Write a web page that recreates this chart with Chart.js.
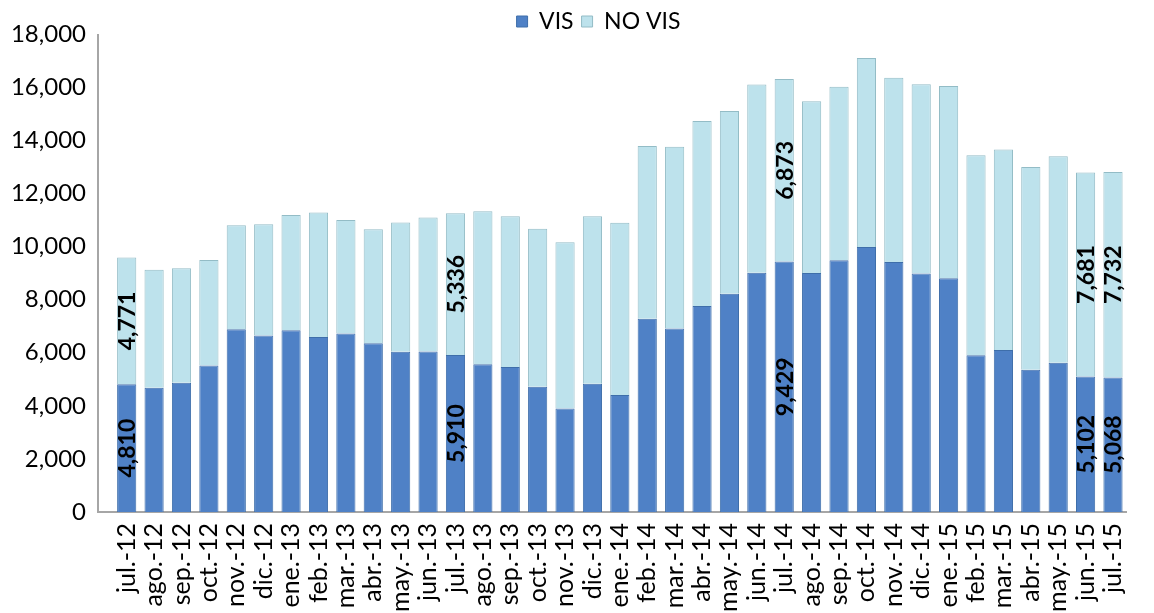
<!DOCTYPE html>
<html>
<head>
<meta charset="utf-8">
<script src="https://cdn.jsdelivr.net/npm/chart.js@4.4.1/dist/chart.umd.min.js"></script>
<style>
  html, body { margin: 0; padding: 0; background: #fff; }
  #wrap { width: 1154px; height: 613px; }
</style>
</head>
<body>
<div id="wrap"><canvas id="vivChart"></canvas></div>
<script>
// months jul-12 .. jul-15
const months = [
  'jul.-12', 'ago.-12', 'sep.-12', 'oct.-12', 'nov.-12', 'dic.-12',
  'ene.-13', 'feb.-13', 'mar.-13', 'abr.-13', 'may.-13', 'jun.-13',
  'jul.-13', 'ago.-13', 'sep.-13', 'oct.-13', 'nov.-13', 'dic.-13',
  'ene.-14', 'feb.-14', 'mar.-14', 'abr.-14', 'may.-14', 'jun.-14',
  'jul.-14', 'ago.-14', 'sep.-14', 'oct.-14', 'nov.-14', 'dic.-14',
  'ene.-15', 'feb.-15', 'mar.-15', 'abr.-15', 'may.-15', 'jun.-15',
  'jul.-15'
];
const visValues = [
  4810, 4680, 4870, 5520, 6880, 6650,
  6840, 6590, 6720, 6350, 6030, 6040,
  5910, 5560, 5460, 4720, 3900, 4830,
  4410, 7280, 6910, 7760, 8220, 9010,
  9429, 9000, 9480, 9980, 9410, 8980,
  8800, 5900, 6100, 5360, 5620, 5102,
  5068
];
const noVisValues = [
  4771, 4440, 4310, 3970, 3920, 4190,
  4340, 4690, 4280, 4300, 4870, 5050,
  5336, 5770, 5680, 5950, 6260, 6310,
  6480, 6500, 6840, 6960, 6880, 7090,
  6873, 6470, 6530, 7120, 6940, 7130,
  7240, 7530, 7550, 7630, 7780, 7681,
  7732
];
const labeledIdx = [0, 12, 24, 35, 36];
const yTicks = [0, 2000, 4000, 6000, 8000, 10000, 12000, 14000, 16000, 18000];

const fontFam = 'Lato, "Open Sans", sans-serif';
const fmt = (v) => v.toLocaleString('en-US');

// value labels, rotated like the original
const valueLabels = {
  id: 'valueLabels',
  afterDatasetsDraw(chart) {
    const ctx = chart.ctx;
    ctx.save();
    ctx.font = 'bold 23px ' + fontFam;
    ctx.fillStyle = '#000';
    ctx.textAlign = 'center';
    ctx.textBaseline = 'middle';
    chart.data.datasets.forEach((ds, di) => {
      const meta = chart.getDatasetMeta(di);
      labeledIdx.forEach((i) => {
        const bar = meta.data[i];
        if (!bar) return;
        const p = bar.getCenterPoint();
        ctx.save();
        ctx.translate(p.x, p.y);
        ctx.rotate(-Math.PI / 2);
        ctx.fillText(fmt(ds.data[i]), 0, 1);
        ctx.restore();
      });
    });
    ctx.restore();
  }
};

// back wall line (3d look of the original axis)
const backWall = {
  id: 'backWall',
  beforeDatasetsDraw(chart) {
    const a = chart.chartArea;
    const ctx = chart.ctx;
    ctx.save();
    ctx.strokeStyle = '#a6a6a6';
    ctx.lineWidth = 2;
    ctx.beginPath();
    ctx.moveTo(a.left - 15, a.top);
    ctx.lineTo(a.left - 15, a.bottom);
    ctx.lineTo(a.left, a.bottom);
    ctx.stroke();
    ctx.restore();
  }
};

// legend: fixed height and nudged right, as in the original
const legendBox = {
  id: 'legendBox',
  beforeInit(chart) {
    const origFit = chart.legend.fit;
    chart.legend.fit = function () {
      origFit.bind(chart.legend)();
      this.height = 34;
    };
  },
  beforeDraw(chart) {
    chart.legend.left = 44;
    chart.legend.top = 2;
  }
};

new Chart(document.getElementById('vivChart'), {
  type: 'bar',
  data: {
    labels: months,
    datasets: [
      {
        label: 'VIS',
        data: visValues,
        backgroundColor: '#4f81c6',
        borderColor: '#3e6eaa',
        borderWidth: 1,
        categoryPercentage: 1,
        barPercentage: 0.7
      },
      {
        label: 'NO VIS',
        data: noVisValues,
        backgroundColor: '#bde2ec',
        borderColor: '#93bcc6',
        borderWidth: 1,
        categoryPercentage: 1,
        barPercentage: 0.7
      }
    ]
  },
  options: {
    responsive: true,
    maintainAspectRatio: false,
    animation: false,
    layout: { padding: { top: 0, right: 1, bottom: 0, left: 0 } },
    plugins: {
      legend: {
        position: 'top',
        labels: {
          boxWidth: 11,
          boxHeight: 11,
          padding: 8,
          color: '#000',
          font: { family: fontFam, size: 23 }
        }
      },
      tooltip: { enabled: false }
    },
    scales: {
      x: {
        stacked: true,
        grid: { display: false, drawTicks: false },
        border: { display: true, color: '#a6a6a6', width: 2 },
        ticks: {
          color: '#000',
          autoSkip: false,
          minRotation: 90,
          maxRotation: 90,
          padding: 11,
          font: { family: fontFam, size: 25 }
        },
        afterFit: (scale) => { scale.height = 101; }
      },
      y: {
        stacked: true,
        min: 0,
        max: 18000,
        grid: { display: false, drawTicks: false },
        border: { display: false },
        afterBuildTicks: (scale) => { scale.ticks = yTicks.map(v => ({ value: v })); },
        ticks: {
          color: '#000',
          padding: 27,
          font: { family: fontFam, size: 24 },
          callback: (v) => fmt(v)
        },
        afterFit: (scale) => {
          scale.width = 113;
          scale.paddingTop = 12;
          scale.paddingBottom = 12;
        }
      }
    }
  },
  plugins: [legendBox, backWall, valueLabels]
});
</script>
</body>
</html>
